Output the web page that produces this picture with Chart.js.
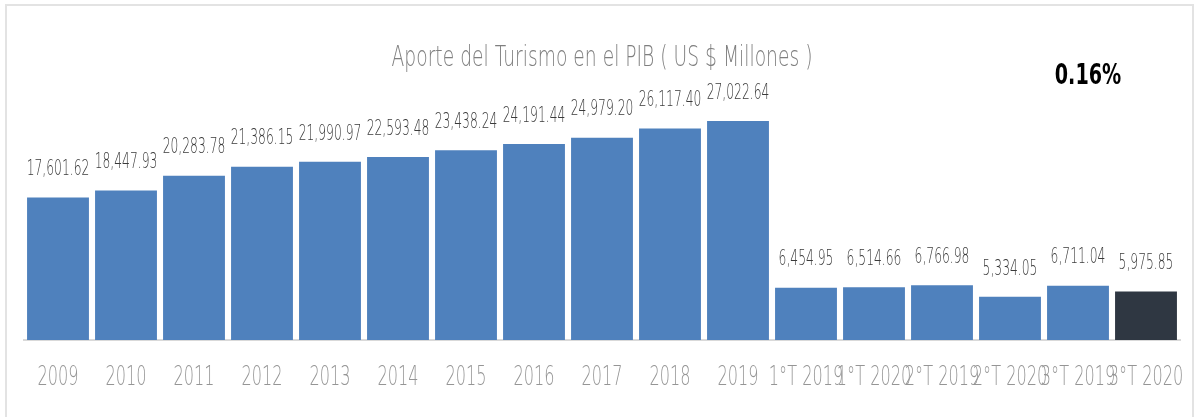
<!DOCTYPE html>
<html>
<head>
<meta charset="utf-8">
<script src="https://cdn.jsdelivr.net/npm/chart.js@4/dist/chart.umd.min.js"></script>
<style>
  html, body { margin: 0; padding: 0; background: #fff; }
  #wrap { position: relative; width: 1198px; height: 417px; }
  #frame {
    position: absolute; left: 5px; top: 4px; width: 1189px; height: 420px;
    border: 2px solid #e3e3e3; box-sizing: border-box;
  }
  canvas { position: absolute; left: 0; top: 0; }
</style>
</head>
<body>
<div id="wrap">
  <div id="frame"></div>
  <canvas id="chart" width="1198" height="417"></canvas>
</div>
<script>
// data
const categories = ['2009', '2010', '2011', '2012', '2013', '2014', '2015', '2016', '2017', '2018', '2019',
    '1°T 2019', '1°T 2020', '2°T 2019', '2°T 2020', '3°T 2019', '3°T 2020'];
const values = [17601.62, 18447.93, 20283.78, 21386.15, 21990.97, 22593.48, 23438.24, 24191.44, 24979.20,
    26117.40, 27022.64, 6454.95, 6514.66, 6766.98, 5334.05, 6711.04, 5975.85];
const barColors = values.map((v, i) => i === values.length - 1 ? '#2f3742' : '#4f81bd');

const titleText = 'Aporte del Turismo en el PIB ( US $ Millones )';
const noteText = '0.16%';

const thin = '"DejaVu Sans", sans-serif';

function fmt(v) {
    return v.toLocaleString('en-US', { minimumFractionDigits: 2, maximumFractionDigits: 2 });
}

// squeeze text horizontally to get the narrow look of the original font
function squeezed(ctx, text, x, y, sx) {
    ctx.save();
    ctx.translate(x, y);
    ctx.scale(sx, 1);
    ctx.fillText(text, 0, 0);
    ctx.restore();
}

const textPlugin = {
    id: 'texts',
    afterDraw(chart) {
        const ctx = chart.ctx;
        const xs = chart.scales.x;
        const meta = chart.getDatasetMeta(0);
        ctx.save();
        ctx.textAlign = 'center';
        ctx.textBaseline = 'middle';

        // title
        ctx.font = '200 29px ' + thin;
        ctx.fillStyle = '#7f7f7f';
        squeezed(ctx, titleText, 602, 58, 0.645);

        // value labels
        ctx.font = '200 22px ' + thin;
        ctx.fillStyle = '#3a3a3a';
        meta.data.forEach((bar, i) => {
            squeezed(ctx, fmt(values[i]), bar.x, bar.y - 28, 0.56);
        });

        // category labels
        ctx.font = '200 26px ' + thin;
        ctx.fillStyle = '#959595';
        categories.forEach((c, i) => {
            squeezed(ctx, c, xs.getPixelForValue(i), 378, 0.62);
        });

        // note
        ctx.font = 'bold 29px ' + thin;
        ctx.fillStyle = '#000';
        squeezed(ctx, noteText, 1088, 76, 0.66);
        ctx.restore();
    }
};

new Chart(document.getElementById('chart'), {
    type: 'bar',
    data: {
        labels: categories,
        datasets: [{
            data: values,
            backgroundColor: barColors,
            barPercentage: 0.91,
            categoryPercentage: 1.0
        }]
    },
    options: {
        responsive: false,
        animation: false,
        layout: { padding: { left: 24, right: 18, top: 97, bottom: 69 } },
        plugins: {
            legend: { display: false },
            tooltip: { enabled: false }
        },
        scales: {
            x: {
                grid: { display: false },
                border: { display: true, color: '#d9d9d9', width: 2 },
                ticks: { display: false }
            },
            y: {
                display: false,
                min: 0,
                max: 30000
            }
        }
    },
    plugins: [textPlugin]
});
</script>
</body>
</html>
